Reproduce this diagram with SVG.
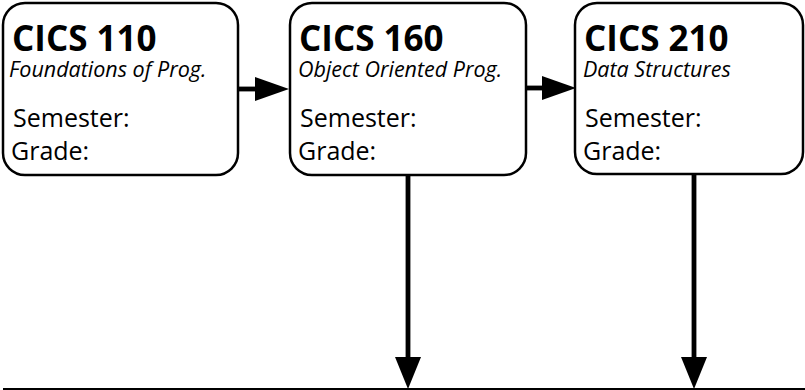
<svg xmlns="http://www.w3.org/2000/svg" width="805" height="390" viewBox="0 0 805 390">
<style>
.box{fill:#fff;stroke:#000;stroke-width:2.5}
.t{font-family:"Open Sans","Liberation Sans",sans-serif;fill:#000}
.title{font-size:35px;font-weight:bold}
.sub{font-size:21.5px;font-style:italic}
.lab{font-size:25px}
.ln{stroke:#000;stroke-width:4.8;fill:none}
.hd{fill:#000}
</style>
<rect width="805" height="390" fill="#fff"/>
<g id="cics110">
<rect class="box" x="3" y="3" width="235" height="172" rx="22"/>
<text class="t title" x="12" y="51">CICS 110</text>
<text class="t sub" x="9" y="77">Foundations of Prog.</text>
<text class="t lab" x="13" y="127">Semester:</text>
<text class="t lab" x="11" y="160">Grade:</text>
</g>
<g id="cics160">
<rect class="box" x="290" y="3" width="236" height="172" rx="22"/>
<text class="t title" x="299" y="51">CICS 160</text>
<text class="t sub" x="298" y="77">Object Oriented Prog.</text>
<text class="t lab" x="300" y="127">Semester:</text>
<text class="t lab" x="298" y="160">Grade:</text>
</g>
<g id="cics210">
<rect class="box" x="575" y="3" width="228" height="171" rx="22"/>
<text class="t title" x="584" y="51">CICS 210</text>
<text class="t sub" x="583" y="77">Data Structures</text>
<text class="t lab" x="585" y="127">Semester:</text>
<text class="t lab" x="583" y="160">Grade:</text>
</g>
<g id="connectors">
<line class="ln" x1="238" y1="89" x2="257" y2="89"/>
<polygon class="hd" points="255,77 289,89 255,101"/>
<line class="ln" x1="526" y1="88" x2="544" y2="88"/>
<polygon class="hd" points="542,76 576,88 542,100"/>
<line class="ln" x1="408" y1="175" x2="408" y2="359"/>
<polygon class="hd" points="395,357 421,357 408,389"/>
<line class="ln" x1="694" y1="174" x2="694" y2="359"/>
<polygon class="hd" points="681,357 707,357 694,389"/>
<line x1="3" y1="389" x2="805" y2="389" stroke="#000" stroke-width="1.8"/>
</g>
</svg>
